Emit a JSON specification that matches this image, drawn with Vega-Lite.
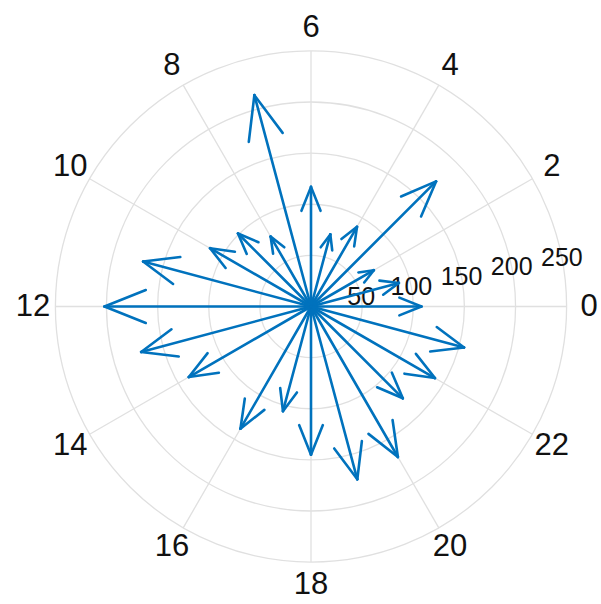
{
  "$schema": "https://vega.github.io/schema/vega-lite/v6.json",
  "width": 593,
  "height": 593,
  "autosize": {"type": "none"},
  "padding": {"left": 14.5, "top": 10, "right": 0, "bottom": 0},
  "background": "white",
  "config": {"view": {"stroke": null}},
  "datasets": {
    "arrows": [
      {"hour": 0, "value": 108}, {"hour": 1, "value": 89}, {"hour": 2, "value": 71},
      {"hour": 3, "value": 173}, {"hour": 4, "value": 90}, {"hour": 5, "value": 73},
      {"hour": 6, "value": 117}, {"hour": 7, "value": 214}, {"hour": 8, "value": 79},
      {"hour": 9, "value": 101}, {"hour": 10, "value": 114}, {"hour": 11, "value": 170},
      {"hour": 12, "value": 202}, {"hour": 13, "value": 172}, {"hour": 14, "value": 138},
      {"hour": 15, "value": 0}, {"hour": 16, "value": 138}, {"hour": 17, "value": 106},
      {"hour": 18, "value": 145}, {"hour": 19, "value": 175}, {"hour": 20, "value": 170},
      {"hour": 21, "value": 127}, {"hour": 22, "value": 140}, {"hour": 23, "value": 155}
    ],
    "rings": [{"r": 50}, {"r": 100}, {"r": 150}, {"r": 200}, {"r": 250}],
    "spokes": [
      {"hour": 0}, {"hour": 2}, {"hour": 4}, {"hour": 6}, {"hour": 8}, {"hour": 10},
      {"hour": 12}, {"hour": 14}, {"hour": 16}, {"hour": 18}, {"hour": 20}, {"hour": 22}
    ],
    "radLabels": [
      {"r": 50, "label": "50"}, {"r": 100, "label": "100"}, {"r": 150, "label": "150"},
      {"r": 200, "label": "200"}, {"r": 250, "label": "250"}
    ]
  },
  "layer": [
    {
      "data": {"name": "rings"},
      "mark": {"type": "arc", "theta": 0, "theta2": 6.2832, "fillOpacity": 0, "stroke": "#e0e0e0", "strokeWidth": 1.3},
      "encoding": {
        "radius": {"field": "r", "type": "quantitative", "stack": null, "scale": {"type": "linear", "domain": [0, 290], "nice": false, "zero": true}, "legend": null}
      }
    },
    {
      "data": {"name": "spokes"},
      "transform": [
        {"calculate": "0", "as": "z"},
        {"calculate": "250*cos(datum.hour*PI/12)", "as": "sx"},
        {"calculate": "250*sin(datum.hour*PI/12)", "as": "sy"}
      ],
      "mark": {"type": "rule", "stroke": "#e0e0e0", "strokeWidth": 1.3},
      "encoding": {
        "x": {"field": "z", "type": "quantitative", "scale": {"domain": [-290, 290], "nice": false, "zero": false}, "axis": null},
        "y": {"field": "z", "type": "quantitative", "scale": {"domain": [-290, 290], "nice": false, "zero": false}, "axis": null},
        "x2": {"field": "sx"},
        "y2": {"field": "sy"}
      }
    },
    {
      "data": {"name": "spokes"},
      "transform": [
        {"calculate": "272*cos(datum.hour*PI/12)", "as": "lx"},
        {"calculate": "272*sin(datum.hour*PI/12)", "as": "ly"},
        {"calculate": "'' + datum.hour", "as": "label"}
      ],
      "mark": {"type": "text", "font": "Liberation Sans", "fontSize": 31, "color": "#111111", "align": "center", "baseline": "middle"},
      "encoding": {
        "x": {"field": "lx", "type": "quantitative"},
        "y": {"field": "ly", "type": "quantitative"},
        "text": {"field": "label", "type": "nominal"}
      }
    },
    {
      "data": {"name": "radLabels"},
      "transform": [
        {"calculate": "datum.r*cos(11*PI/180)", "as": "lx"},
        {"calculate": "datum.r*sin(11*PI/180)", "as": "ly"}
      ],
      "mark": {"type": "text", "font": "Liberation Sans", "fontSize": 25, "color": "#111111", "align": "center", "baseline": "middle"},
      "encoding": {
        "x": {"field": "lx", "type": "quantitative"},
        "y": {"field": "ly", "type": "quantitative"},
        "text": {"field": "label", "type": "nominal"}
      }
    },
    {
      "data": {"name": "arrows"},
      "transform": [
        {"calculate": "0", "as": "z"},
        {"calculate": "datum.hour*PI/12", "as": "t"},
        {"calculate": "datum.value*cos(datum.t)", "as": "tx"},
        {"calculate": "datum.value*sin(datum.t)", "as": "ty"},
        {"calculate": "datum.value*(0.8*cos(datum.t)-0.08*sin(datum.t))", "as": "b1x"},
        {"calculate": "datum.value*(0.8*sin(datum.t)+0.08*cos(datum.t))", "as": "b1y"},
        {"calculate": "datum.value*(0.8*cos(datum.t)+0.08*sin(datum.t))", "as": "b2x"},
        {"calculate": "datum.value*(0.8*sin(datum.t)-0.08*cos(datum.t))", "as": "b2y"}
      ],
      "layer": [
        {
          "mark": {"type": "rule", "color": "#0072BD", "strokeWidth": 2.6, "strokeCap": "round"},
          "encoding": {
            "x": {"field": "z", "type": "quantitative"},
            "y": {"field": "z", "type": "quantitative"},
            "x2": {"field": "tx"},
            "y2": {"field": "ty"}
          }
        },
        {
          "mark": {"type": "rule", "color": "#0072BD", "strokeWidth": 2.6, "strokeCap": "round"},
          "encoding": {
            "x": {"field": "tx", "type": "quantitative"},
            "y": {"field": "ty", "type": "quantitative"},
            "x2": {"field": "b1x"},
            "y2": {"field": "b1y"}
          }
        },
        {
          "mark": {"type": "rule", "color": "#0072BD", "strokeWidth": 2.6, "strokeCap": "round"},
          "encoding": {
            "x": {"field": "tx", "type": "quantitative"},
            "y": {"field": "ty", "type": "quantitative"},
            "x2": {"field": "b2x"},
            "y2": {"field": "b2y"}
          }
        }
      ]
    }
  ]
}
